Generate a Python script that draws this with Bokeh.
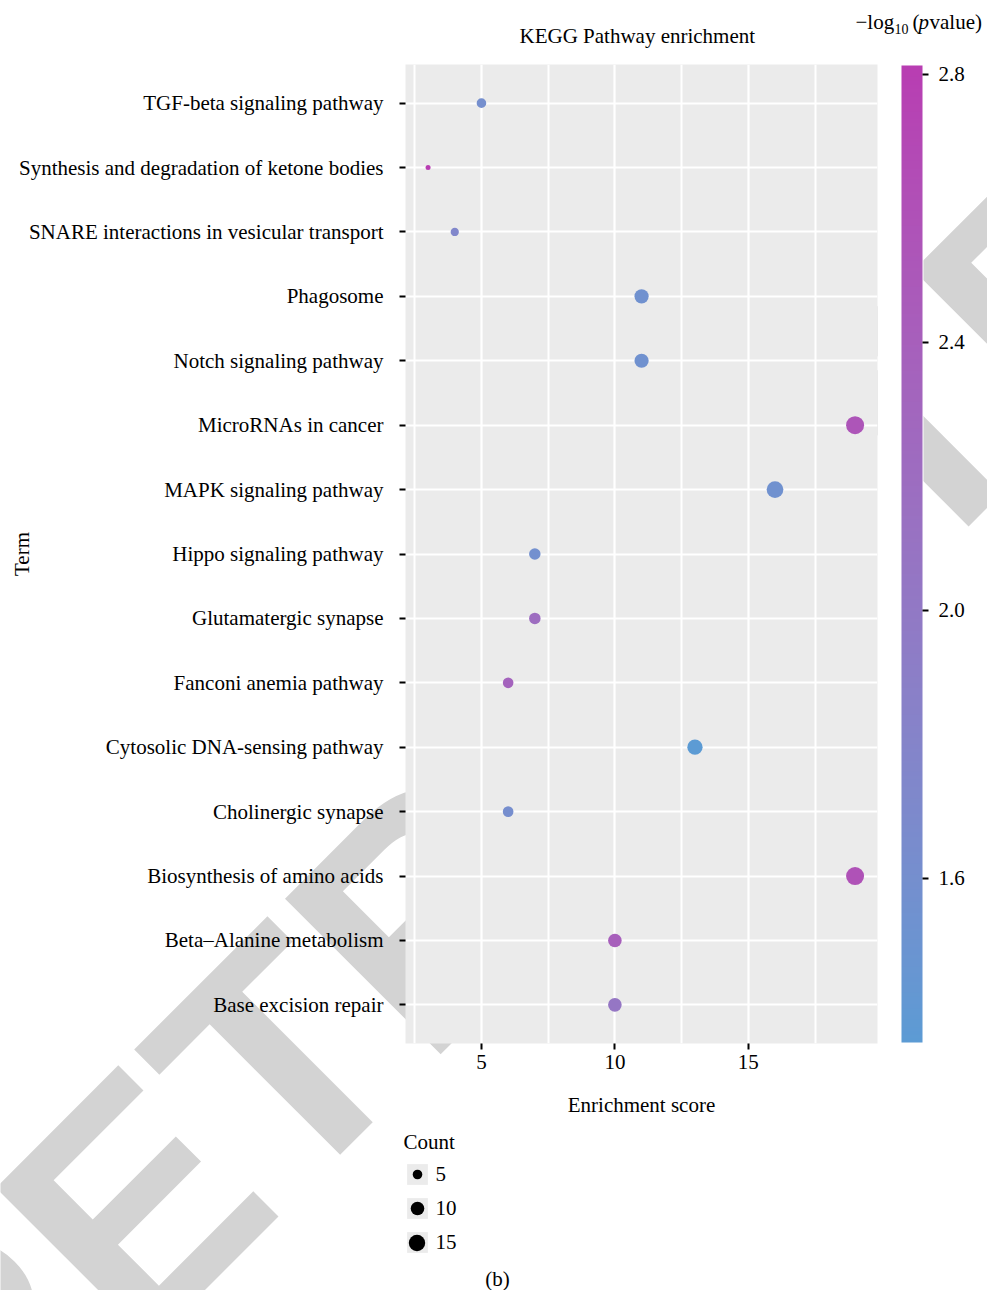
import numpy as np
from bokeh.plotting import figure
from bokeh.models import (ColumnDataSource, FactorRange, Range1d, FixedTicker, LinearColorMapper,
                          ColorBar, Label, Legend, LegendItem, PrintfTickFormatter, BoxAnnotation)
from bokeh.transform import transform
from bokeh.embed import file_html
from bokeh.resources import INLINE

# ---------------- data (top to bottom as shown) ----------------
terms = ["TGF-beta signaling pathway",
         "Synthesis and degradation of ketone bodies",
         "SNARE interactions in vesicular transport",
         "Phagosome",
         "Notch signaling pathway",
         "MicroRNAs in cancer",
         "MAPK signaling pathway",
         "Hippo signaling pathway",
         "Glutamatergic synapse",
         "Fanconi anemia pathway",
         "Cytosolic DNA-sensing pathway",
         "Cholinergic synapse",
         "Biosynthesis of amino acids",
         "Beta\u2013Alanine metabolism",
         "Base excision repair"]
enrichment = [5, 3, 4, 11, 11, 19, 16, 7, 7, 6, 13, 6, 19, 10, 10]
count = [5, 3, 4, 11, 11, 19, 16, 7, 7, 6, 13, 6, 19, 10, 10]
neglog10p = [1.60, 2.813, 1.75, 1.55, 1.55, 2.55, 1.55, 1.58, 2.20, 2.35, 1.355, 1.62, 2.58, 2.40, 2.05]
count_breaks = [5, 10, 15]
cbar_ticks = [1.6, 2.0, 2.4, 2.8]
x_ticks = [5, 10, 15]
x_minor = [2.5, 7.5, 12.5, 17.5]

# ---------------- styling ----------------
FONT = "Liberation Serif"
FS = "21px"
LOW_COL, HIGH_COL = "#5C9BD4", "#B83DB2"
PANEL = "#EBEBEB"
SIZE_MIN, SIZE_MAX = 5.0, 18.0
W, H = 987, 1290


def _lin(c):
    c = c / 255.0
    return np.where(c <= 0.04045, c / 12.92, ((c + 0.055) / 1.055) ** 2.4)


def _delin(c):
    c = np.clip(c, 0, 1)
    return np.where(c <= 0.0031308, 12.92 * c, 1.055 * c ** (1 / 2.4) - 0.055) * 255


M = np.array([[0.4124, 0.3576, 0.1805], [0.2126, 0.7152, 0.0722], [0.0193, 0.1192, 0.9505]])
WHITE = np.array([0.95047, 1.0, 1.08883])


def hex2lab(h):
    rgb = np.array([int(h[i:i + 2], 16) for i in (1, 3, 5)], float)
    xyz = M @ _lin(rgb) / WHITE
    f = np.where(xyz > 0.008856, np.cbrt(xyz), 7.787 * xyz + 16 / 116)
    return np.array([116 * f[1] - 16, 500 * (f[0] - f[1]), 200 * (f[1] - f[2])])


def lab2hex(lab):
    fy = (lab[0] + 16) / 116
    fx = fy + lab[1] / 500
    fz = fy - lab[2] / 200
    f = np.array([fx, fy, fz])
    xyz = np.where(f ** 3 > 0.008856, f ** 3, (f - 16 / 116) / 7.787) * WHITE
    rgb = _delin(np.linalg.inv(M) @ xyz)
    return "#%02x%02x%02x" % tuple(int(round(v)) for v in rgb)


l0, l1 = hex2lab(LOW_COL), hex2lab(HIGH_COL)
palette = [lab2hex(l0 + (l1 - l0) * t) for t in np.linspace(0, 1, 256)]

cmin, cmax = min(count), max(count)


def size_px(c):
    return SIZE_MIN + (SIZE_MAX - SIZE_MIN) * np.sqrt((c - cmin) / (cmax - cmin))


# ================= background layer: watermark, size legend, captions =================
bg = figure(width=W, height=H, x_range=Range1d(0, W), y_range=Range1d(0, H),
            output_backend="svg", toolbar_location=None,
            x_axis_location=None, y_axis_location=None,
            min_border=0, min_border_left=0, min_border_right=0,
            min_border_top=0, min_border_bottom=0)
bg.grid.visible = False
bg.outline_line_color = None
bg.background_fill_color = "white"
bg.border_fill_color = "white"


def byy(iy):  # page y -> screen y measured from the bottom
    return H - iy


def lab(text, ix, iy, fs=FS, style="normal", align="left", font=FONT, color="black", angle=0.0):
    return Label(x=ix, y=byy(iy), text=text, x_units="screen", y_units="screen",
                 text_font=font, text_font_size=fs, text_font_style=style, text_color=color,
                 text_align=align, text_baseline="middle", angle=angle)


bg.add_layout(lab("RETRACTED", -106, 1443, fs="320px", style="bold", font="Liberation Sans",
                  color="#D3D3D3", angle=np.pi / 4))
# white strip between panel and colour bar (watermark hidden there in the original)
bg.add_layout(BoxAnnotation(left=877, right=923, bottom=0, top=H, fill_color="white",
                            fill_alpha=1, line_color=None))

# colour-bar title: -log10 (pvalue)
for t, ix, iy, fs, st in [("\u2212log", 855, 21, FS, "normal"), ("10", 894, 28, "14px", "normal"),
                          ("(", 912, 21, FS, "normal"), ("p", 918, 21, FS, "italic"),
                          ("value)", 929, 21, FS, "normal")]:
    bg.add_layout(lab(t, ix, iy, fs=fs, style=st))

bg.add_layout(lab("(b)", 497, 1278, align="center"))

# size legend (proxy glyphs sit outside the visible range)
grey = bg.rect(x=[-100], y=[-100], width=1, height=1, fill_color=PANEL, line_color=None)
dot = bg.scatter(x=[-100], y=[-100], size=10, marker="circle", fill_color="black", line_color=None)
legA = Legend(items=[LegendItem(label=str(b), renderers=[grey]) for b in count_breaks],
              title="Count", location=(403.5, byy(1255)),
              glyph_width=26, glyph_height=26, spacing=8, padding=0, margin=0,
              label_standoff=6, label_text_font=FONT, label_text_font_size=FS,
              label_text_color="black",
              title_text_font=FONT, title_text_font_size=FS, title_text_font_style="normal",
              title_text_color="black", title_standoff=6,
              border_line_color=None, background_fill_alpha=0)
bg.add_layout(legA)
for b, yk in zip(count_breaks, [1174, 1208, 1242]):
    B = int(round(size_px(b) / 0.4))
    bg.add_layout(Legend(items=[LegendItem(label=" ", renderers=[dot])],
                         location=(416.5 - B / 2, byy(yk + B / 2)),
                         glyph_width=B, glyph_height=B, padding=0, margin=0,
                         label_text_font_size="1px", label_text_alpha=0,
                         border_line_color=None, background_fill_alpha=0))

# ================= main chart layer =================
src = ColumnDataSource(dict(term=terms, enrichment=enrichment, count=count,
                            logp=neglog10p, size=[size_px(c) for c in count]))

p = figure(width=W, height=H,
           y_range=FactorRange(*reversed(terms), range_padding=0.2 / len(terms)),
           x_range=Range1d(2.154, 19.84),
           output_backend="svg", toolbar_location=None,
           min_border_left=405, min_border_right=110, min_border_top=64, min_border_bottom=247,
           title="KEGG Pathway enrichment")
p.background_fill_color = PANEL
p.border_fill_color = None
p.outline_line_color = None
p.styles = {"margin-top": f"-{H}px"}

xt = FixedTicker(ticks=x_ticks, minor_ticks=x_minor)
p.xaxis.ticker = xt
p.xgrid.ticker = xt
p.xgrid.grid_line_color = "white"
p.xgrid.grid_line_width = 2.2
p.xgrid.minor_grid_line_color = "white"
p.xgrid.minor_grid_line_width = 2
p.ygrid.grid_line_color = "white"
p.ygrid.grid_line_width = 2

for ax in (p.xaxis, p.yaxis):
    ax.axis_line_color = None
    ax.major_tick_line_color = "black"
    ax.major_tick_line_width = 2
    ax.major_tick_in = 0
    ax.major_tick_out = 6
    ax.minor_tick_line_color = None
    ax.major_label_text_font = FONT
    ax.major_label_text_font_size = FS
    ax.major_label_text_color = "black"
    ax.axis_label_text_font = FONT
    ax.axis_label_text_font_size = FS
    ax.axis_label_text_font_style = "normal"
    ax.axis_label_text_color = "black"
p.xaxis.axis_label = "Enrichment score"
p.xaxis.major_label_standoff = 5
p.xaxis.axis_label_standoff = 21
p.yaxis.axis_label = "Term"
p.yaxis.major_label_standoff = 16
p.yaxis.axis_label_standoff = -18

p.title.text_font = FONT
p.title.text_font_size = FS
p.title.text_font_style = "normal"
p.title.text_color = "black"
p.title.align = "left"
p.title.offset = 114
p.title.standoff = 33

mapper = LinearColorMapper(palette=palette, low=min(neglog10p), high=max(neglog10p))
p.scatter(x="enrichment", y="term", size="size", source=src, marker="circle",
          fill_color=transform("logp", mapper), line_color=None)

cb = ColorBar(color_mapper=mapper, ticker=FixedTicker(ticks=cbar_ticks),
              formatter=PrintfTickFormatter(format="%.1f"),
              width=21, height=977, location=(901 - 405, 1043 - 1042), padding=0, margin=0,
              major_tick_in=0, major_tick_out=6, major_tick_line_color="black",
              major_tick_line_width=2, label_standoff=10,
              major_label_text_font=FONT, major_label_text_font_size=FS,
              major_label_text_color="black", bar_line_color=None,
              border_line_color=None, background_fill_alpha=0)
p.add_layout(cb)

open("out.html", "w").write(file_html([bg, p], INLINE))
